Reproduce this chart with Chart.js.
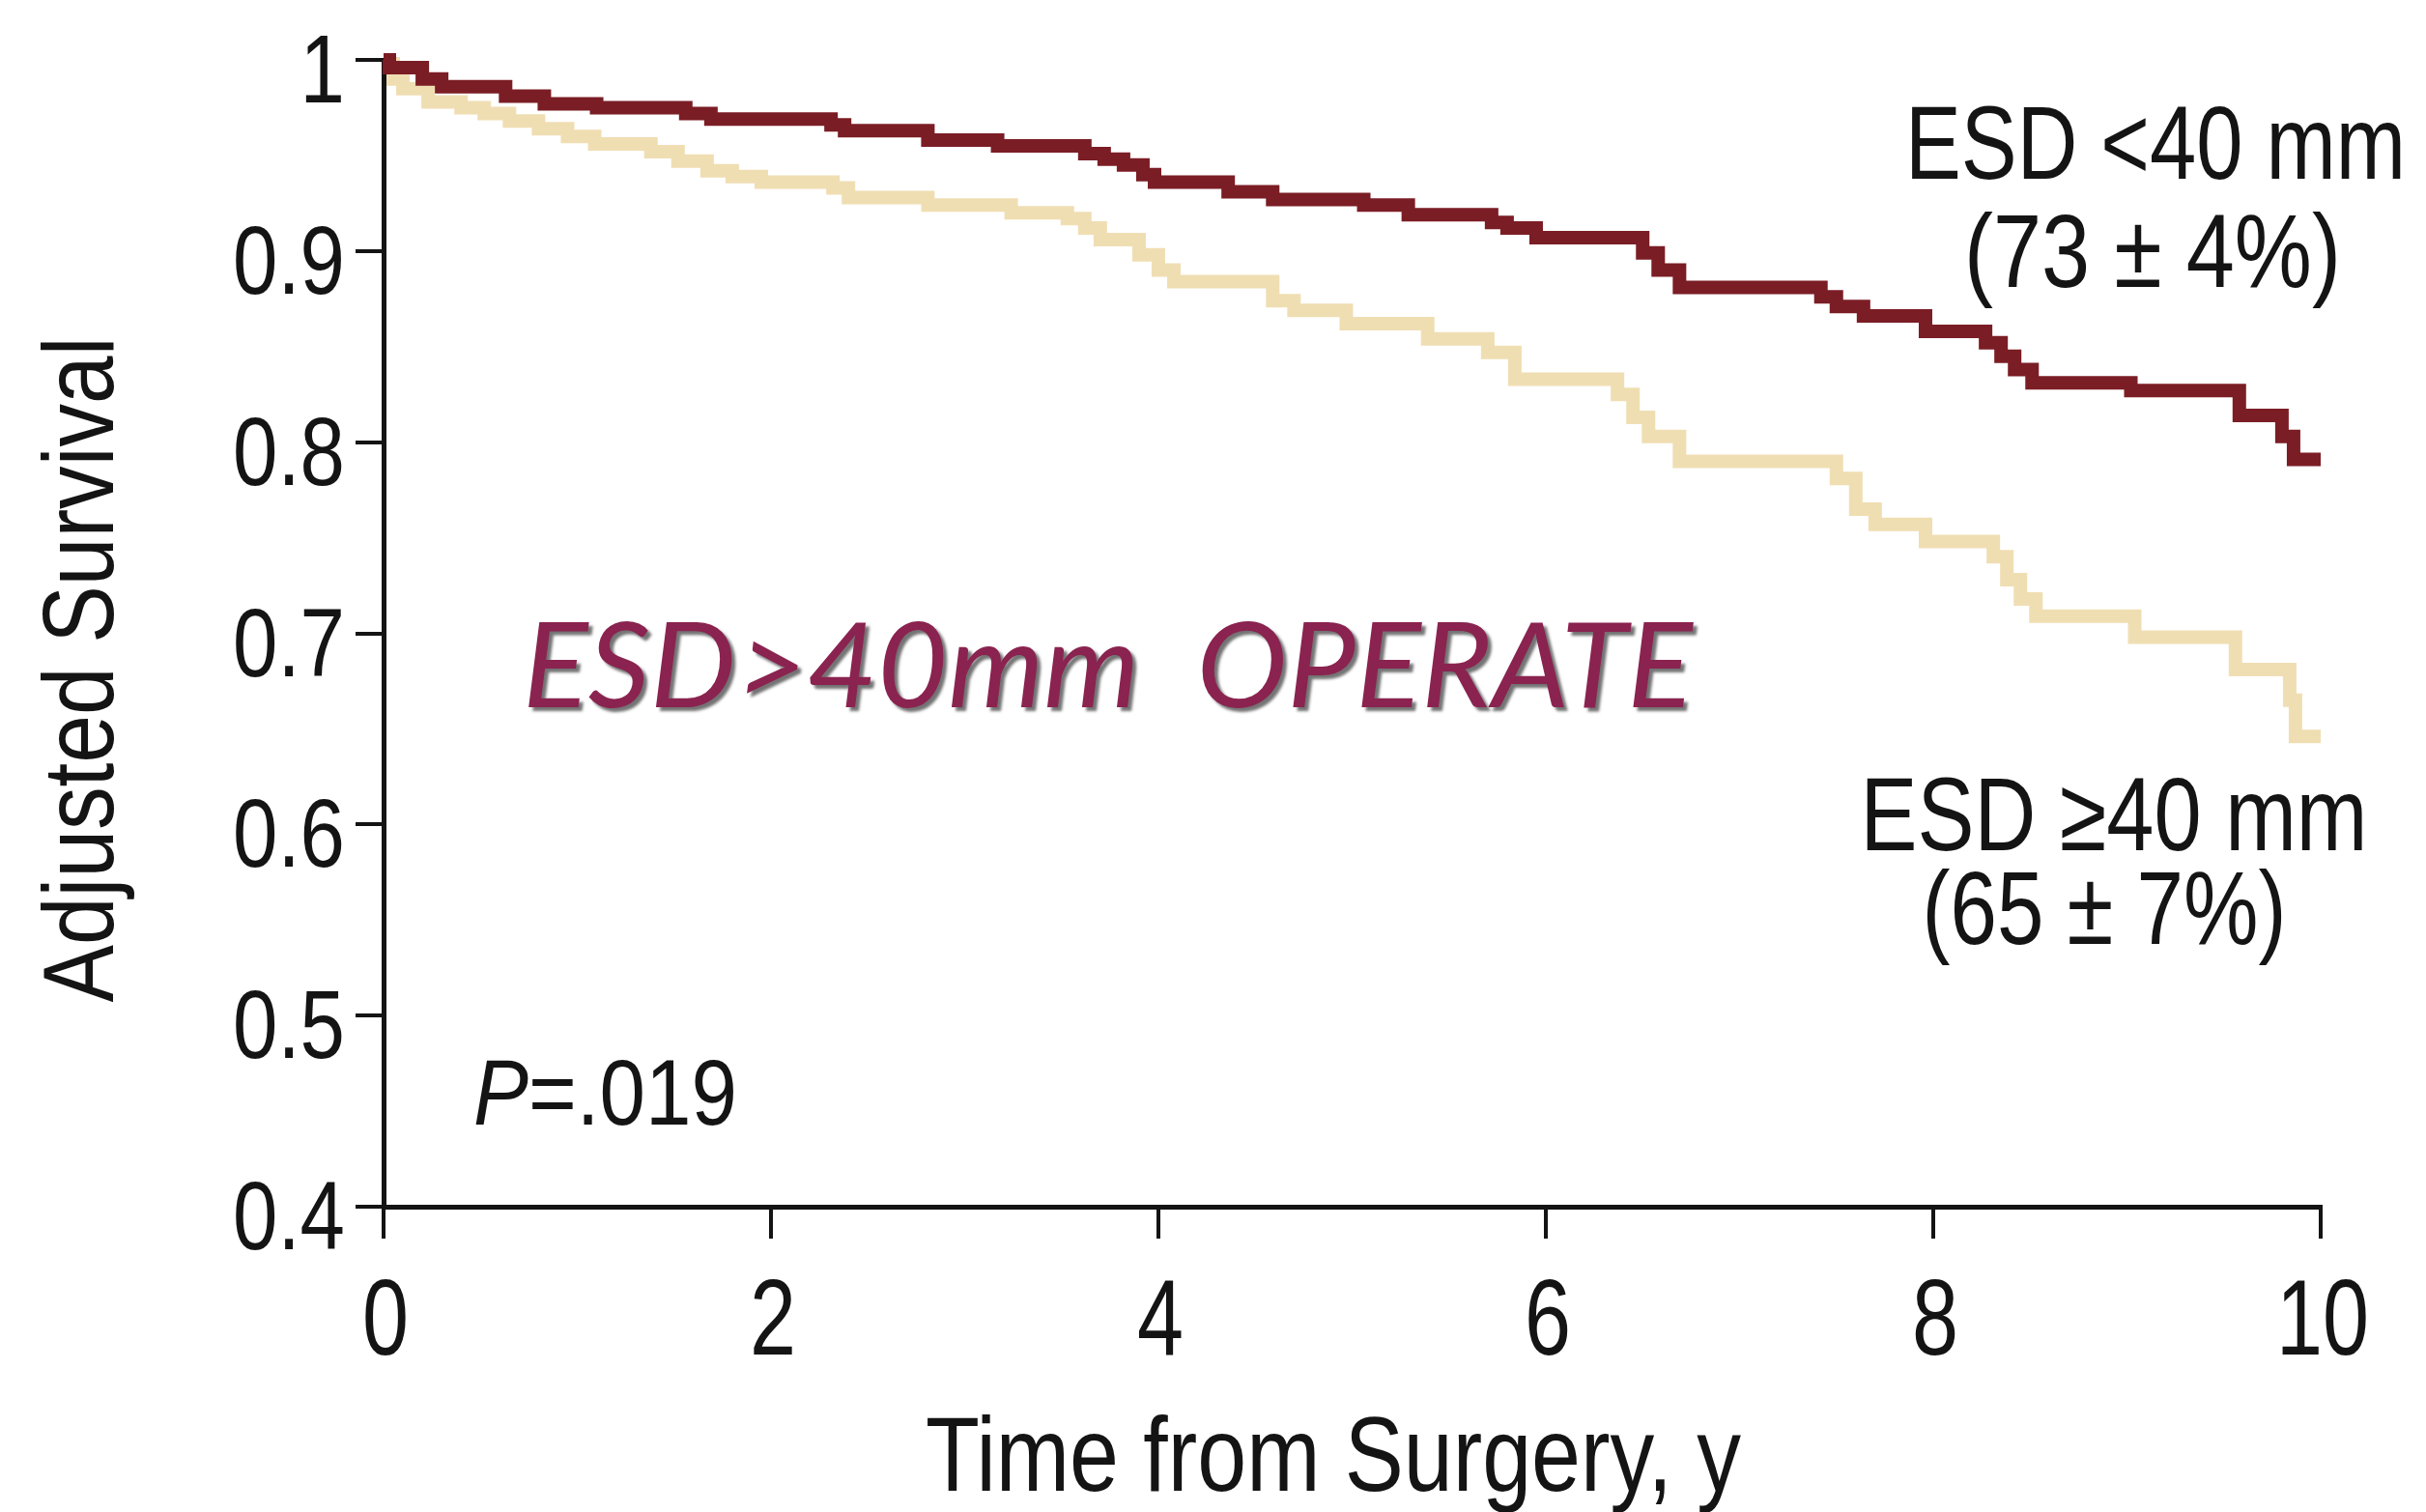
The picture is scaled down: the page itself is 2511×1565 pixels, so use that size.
<!DOCTYPE html>
<html>
<head>
<meta charset="utf-8">
<script src="https://cdn.jsdelivr.net/npm/chart.js@4.4.1/dist/chart.umd.min.js"></script>
<style>
  html, body { margin: 0; padding: 0; background: #ffffff; overflow: hidden; }
  #wrap { width: 2511px; height: 1565px; position: relative; background: #ffffff; }
  canvas { display: block; }
</style>
</head>
<body>
<div id="wrap"><canvas id="c" width="2511" height="1565"></canvas></div>
<script>
// ---------------- DATA ----------------
const seriesNames = ['ESD <40 mm', 'ESD \u226540 mm'];
const seriesNotes = ['(73 \u00b1 4%)', '(65 \u00b1 7%)'];

// ESD < 40 mm (dark red) : event times (years) and adjusted survival after each step
const smallTimes = [0.00, 0.03, 0.20, 0.30, 0.63, 0.83, 1.10, 1.56, 1.69, 2.31, 2.38, 2.81, 3.17, 3.62, 3.72, 3.82, 3.92, 3.98, 4.36, 4.59, 5.06, 5.29, 5.72, 5.80, 5.95, 6.50, 6.58, 6.69, 7.42, 7.50, 7.64, 7.96, 8.27, 8.35, 8.42, 8.51, 9.02, 9.58, 9.80, 9.86, 10.00];
const smallSurv  = [1.000, 0.996, 0.990, 0.986, 0.981, 0.977, 0.975, 0.972, 0.969, 0.966, 0.963, 0.958, 0.955, 0.951, 0.948, 0.945, 0.940, 0.936, 0.931, 0.927, 0.924, 0.919, 0.915, 0.912, 0.907, 0.899, 0.890, 0.881, 0.876, 0.871, 0.866, 0.858, 0.852, 0.845, 0.838, 0.831, 0.827, 0.814, 0.803, 0.791, 0.791];

// ESD >= 40 mm (beige)
const largeTimes = [0.00, 0.05, 0.10, 0.23, 0.40, 0.52, 0.65, 0.80, 0.95, 1.09, 1.38, 1.52, 1.67, 1.80, 1.95, 2.32, 2.40, 2.81, 3.24, 3.53, 3.62, 3.70, 3.90, 4.00, 4.08, 4.59, 4.70, 4.97, 5.39, 5.70, 5.84, 6.37, 6.45, 6.53, 6.69, 7.50, 7.60, 7.70, 7.96, 8.31, 8.38, 8.45, 8.53, 9.04, 9.56, 9.84, 9.87, 10.00];
const largeSurv  = [0.998, 0.990, 0.985, 0.978, 0.975, 0.972, 0.968, 0.964, 0.960, 0.956, 0.952, 0.947, 0.942, 0.939, 0.936, 0.933, 0.928, 0.924, 0.920, 0.917, 0.912, 0.906, 0.898, 0.890, 0.884, 0.874, 0.869, 0.862, 0.854, 0.847, 0.833, 0.825, 0.813, 0.803, 0.790, 0.781, 0.765, 0.757, 0.748, 0.740, 0.728, 0.718, 0.709, 0.698, 0.681, 0.665, 0.646, 0.646];

const xTickValues = [0, 2, 4, 6, 8, 10];
const xTickLabels = ['0', '2', '4', '6', '8', '10'];
const yTickValues = [0.4, 0.5, 0.6, 0.7, 0.8, 0.9, 1.0];
const yTickLabels = ['0.4', '0.5', '0.6', '0.7', '0.8', '0.9', '1'];

const xTitle = 'Time from Surgery, y';
const yTitle = 'Adjusted Survival';
const pLabelItalic = 'P';
const pLabelRest = '=.019';
const overlayText = 'ESD>40mm  OPERATE';

// ---------------- STYLE ----------------
const DARK = '#7b1d25';
const LIGHT = '#f0deb3';
const INK = '#141414';
const SANS = '"Liberation Sans", Arial, Helvetica, sans-serif';

function pts(ts, vs) { return ts.map((t, i) => ({ x: t, y: vs[i] })); }

// draw horizontally-condensed text
function condText(ctx, text, x, y, font, sx, align, rot) {
  ctx.save();
  ctx.font = font;
  ctx.textAlign = align || 'left';
  ctx.textBaseline = 'alphabetic';
  ctx.translate(x, y);
  if (rot) ctx.rotate(rot);
  ctx.scale(sx, 1);
  ctx.fillText(text, 0, 0);
  ctx.restore();
}
function fitScale(ctx, text, font, target) {
  ctx.save(); ctx.font = font; const w = ctx.measureText(text).width; ctx.restore();
  return target / w;
}

const annotPlugin = {
  id: 'annot',
  afterDraw(chart) {
    const ctx = chart.ctx;
    const xs = chart.scales.x, ys = chart.scales.y;
    ctx.save();
    ctx.fillStyle = INK;

    // y tick labels
    const fy = '100px ' + SANS;
    const sxY = fitScale(ctx, '0.4', fy, 116);
    yTickValues.forEach((v, i) => {
      const py = ys.getPixelForValue(v);
      condText(ctx, yTickLabels[i], xs.left - 40, py + 44, fy, sxY, 'right');
    });

    // x tick labels
    const fx = '112px ' + SANS;
    const sxX = fitScale(ctx, '10', fx, 96);
    const axisY = ys.getPixelForValue(0.4);
    xTickValues.forEach((v, i) => {
      const px = xs.getPixelForValue(v);
      condText(ctx, xTickLabels[i], px + 2, axisY + 153, fx, sxX, 'center');
    });

    // axis titles
    const ft = '109px ' + SANS;
    condText(ctx, xTitle, 1380, 1543, ft, fitScale(ctx, xTitle, ft, 844), 'center');
    const fyt = '103px ' + SANS;
    condText(ctx, yTitle, 117, 693, fyt, fitScale(ctx, yTitle, fyt, 689), 'center', -Math.PI / 2);

    // curve labels
    const fl = '108px ' + SANS;
    condText(ctx, seriesNames[0], 2231, 185, fl, fitScale(ctx, seriesNames[0], fl, 518), 'center');
    condText(ctx, seriesNotes[0], 2228, 297, fl, fitScale(ctx, seriesNotes[0], fl, 390), 'center');
    condText(ctx, seriesNames[1], 2188, 880, fl, fitScale(ctx, seriesNames[1], fl, 525), 'center');
    condText(ctx, seriesNotes[1], 2178, 977, fl, fitScale(ctx, seriesNotes[1], fl, 377), 'center');

    // P value
    const fpi = 'italic 97px ' + SANS, fpn = '97px ' + SANS;
    ctx.font = fpi; const wP = ctx.measureText(pLabelItalic).width;
    ctx.font = fpn; const wR = ctx.measureText(pLabelRest).width;
    const sxp = 273 / (wP + wR);
    condText(ctx, pLabelItalic, 490, 1164, fpi, sxp, 'left');
    condText(ctx, pLabelRest, 490 + wP * sxp, 1164, fpn, sxp, 'left');

    // overlay statement
    const fo = 'italic 123px Lato, "Open Sans", sans-serif';
    ctx.save();
    ctx.fillStyle = '#8a2350';
    ctx.shadowColor = 'rgba(0,0,0,0.55)';
    ctx.shadowOffsetX = 4;
    ctx.shadowOffsetY = 4;
    ctx.shadowBlur = 3;
    condText(ctx, overlayText, 541, 732, fo, fitScale(ctx, overlayText, fo, 1211), 'left');
    ctx.restore();

    ctx.restore();
  }
};

const ctx = document.getElementById('c').getContext('2d');
new Chart(ctx, {
  type: 'line',
  data: {
    datasets: [
      { label: seriesNames[0], data: pts(smallTimes, smallSurv), borderColor: DARK, backgroundColor: DARK,
        borderWidth: 14, stepped: true, pointRadius: 0, fill: false, borderCapStyle: 'butt', borderJoinStyle: 'miter', clip: 10 },
      { label: seriesNames[1], data: pts(largeTimes, largeSurv), borderColor: LIGHT, backgroundColor: LIGHT,
        borderWidth: 14, stepped: true, pointRadius: 0, fill: false, borderCapStyle: 'butt', borderJoinStyle: 'miter', clip: 10 }
    ]
  },
  options: {
    responsive: false,
    animation: false,
    devicePixelRatio: 1,
    layout: { padding: { top: 62, right: 109, left: 0, bottom: 0 } },
    plugins: { legend: { display: false }, tooltip: { enabled: false }, title: { display: false } },
    scales: {
      x: {
        type: 'linear', min: 0, max: 10,
        afterBuildTicks: s => { s.ticks = xTickValues.map(v => ({ value: v })); },
        afterFit: s => { s.height = 316; },
        ticks: { display: false },
        grid: { drawOnChartArea: false, drawTicks: true, tickLength: 33, color: INK, lineWidth: 4 },
        border: { display: true, color: INK, width: 5 }
      },
      y: {
        type: 'linear', min: 0.4, max: 1.0,
        afterBuildTicks: s => { s.ticks = yTickValues.map(v => ({ value: v })); },
        afterFit: s => { s.width = 397; },
        ticks: { display: false },
        grid: { drawOnChartArea: false, drawTicks: true, tickLength: 29, color: INK, lineWidth: 4 },
        border: { display: true, color: INK, width: 5 }
      }
    }
  },
  plugins: [annotPlugin]
});
</script>
</body>
</html>
